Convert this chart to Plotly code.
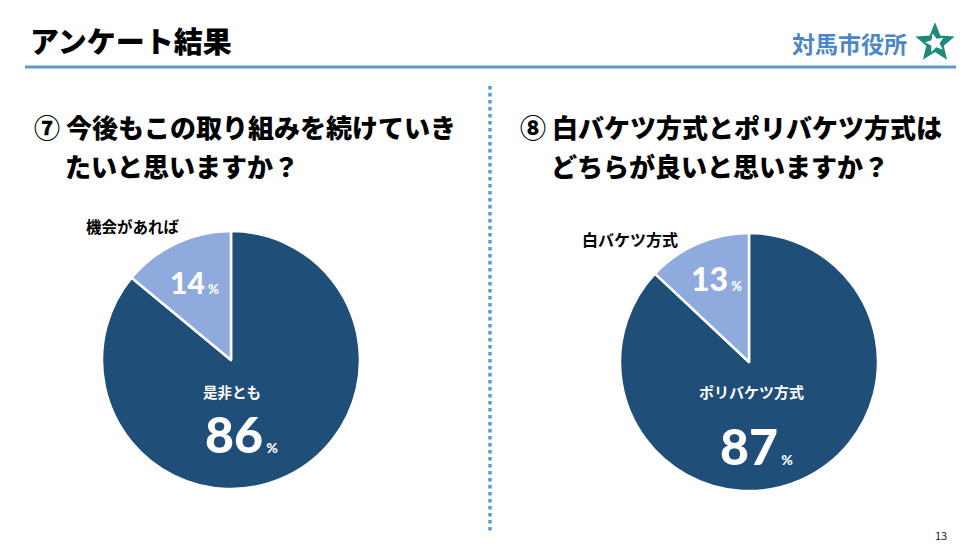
import math
import plotly.graph_objects as go

# データ
q7_labels = ['機会があれば', '是非とも']
q7_values = [14, 86]
q8_labels = ['白バケツ方式', 'ポリバケツ方式']
q8_values = [13, 87]

q7_title = ['⑦ 今後もこの取り組みを続けていき', 'たいと思いますか？']
q8_title = ['⑧ 白バケツ方式とポリバケツ方式は', 'どちらが良いと思いますか？']

W, H = 978, 551
JP = 'Noto Sans CJK JP'
NUM = 'Lato'
DARK = '#1f4e79'
LIGHT = '#8faadc'


def px(x):
    return x / W


def py(y):
    return 1 - y / H


def dom(cx, cy, r):
    return dict(x=[px(cx - r), px(cx + r)], y=[py(cy + r), py(cy - r)])


def pct(v, big, small):
    return (f"<span style='font-size:{big}px'>{v}</span>"
            f"<span style='font-size:{small}px'> %</span>")


fig = go.Figure()

# 大きい方から時計回りに描くと小さい扇形が左上に来る
fig.add_trace(go.Pie(labels=q7_labels[::-1], values=q7_values[::-1], sort=False,
                     direction='clockwise', rotation=0,
                     marker=dict(colors=[DARK, LIGHT], line=dict(color='white', width=2.5)),
                     textinfo='none', hoverinfo='label+percent',
                     domain=dom(231, 360, 129), showlegend=False))
fig.add_trace(go.Pie(labels=q8_labels[::-1], values=q8_values[::-1], sort=False,
                     direction='clockwise', rotation=0,
                     marker=dict(colors=[DARK, LIGHT], line=dict(color='white', width=2.5)),
                     textinfo='none', hoverinfo='label+percent',
                     domain=dom(749, 362, 129), showlegend=False))

ann = []


def add(text, x, y, size, color='black', xanchor='center', yanchor='middle',
        family=JP, weight=700):
    ann.append(dict(text=text, x=px(x), y=py(y), xref='paper', yref='paper',
                    showarrow=False, xanchor=xanchor, yanchor=yanchor,
                    font=dict(family=family, size=size, color=color, weight=weight)))


# ヘッダー
add('アンケート結果', 28, 40, 29, xanchor='left', weight=900)
add('対馬市役所', 909, 43, 23, color='#4a86c8', xanchor='right')
add('13', 941, 535, 11, color='#222', weight=400)

# 設問
add(q7_title[0], 32, 127, 26, xanchor='left', weight=900)
add(q7_title[1], 63, 165, 26, xanchor='left', weight=900)
add(q8_title[0], 518, 127, 26, xanchor='left', weight=900)
add(q8_title[1], 549, 165, 26, xanchor='left', weight=900)

# 円グラフのラベル
add(q7_labels[0], 133, 226, 15.5)
add(pct(q7_values[0], 30, 13), 194, 282, 30, color='white', family=NUM, weight=900)
add(q7_labels[1], 232, 391, 14.5, color='white')
add(pct(q7_values[1], 50, 14), 241, 434, 50, color='white', family=NUM, weight=900)

add(q8_labels[0], 630, 239, 16)
add(pct(q8_values[0], 32, 13), 716, 278, 32, color='white', family=NUM, weight=900)
add(q8_labels[1], 751, 391, 15, color='white')
add(pct(q8_values[1], 50, 14), 756, 446, 50, color='white', family=NUM, weight=900)

# ロゴ(簡略): 星形
star = []
for i in range(10):
    r = 18 if i % 2 == 0 else 8
    a = math.pi / 2 + i * math.pi / 5
    star.append((935 + r * math.cos(a), 43 - r * math.sin(a)))
star_path = 'M ' + ' L '.join(f'{px(x)} {py(y)}' for x, y in star) + ' Z'
inner = []
for i in range(10):
    r = 10 if i % 2 == 0 else 4.5
    a = math.pi / 2 + i * math.pi / 5 + 0.25
    inner.append((935 + r * math.cos(a), 43 - r * math.sin(a)))
inner_path = 'M ' + ' L '.join(f'{px(x)} {py(y)}' for x, y in inner) + ' Z'

shapes = [
    # ヘッダー下の線
    dict(type='line', xref='paper', yref='paper', x0=px(25), x1=px(956),
         y0=py(67), y1=py(67), line=dict(color='#5b9bd5', width=3)),
    # 中央の点線
    dict(type='line', xref='paper', yref='paper', x0=px(490), x1=px(490),
         y0=py(86), y1=py(533), line=dict(color='#5b9bd5', width=3.5, dash='dot')),
    dict(type='path', xref='paper', yref='paper', path=star_path,
         fillcolor='#1e8a78', line=dict(color='#1e8a78', width=2)),
    dict(type='path', xref='paper', yref='paper', path=inner_path,
         fillcolor='white', line=dict(width=0)),
]

fig.update_layout(width=W, height=H, margin=dict(l=0, r=0, t=0, b=0),
                  paper_bgcolor='white', plot_bgcolor='white',
                  annotations=ann, shapes=shapes,
                  font=dict(family=JP))

fig.write_html('out.html', config={'displayModeBar': False},
               post_script="document.body.style.margin='0';")
